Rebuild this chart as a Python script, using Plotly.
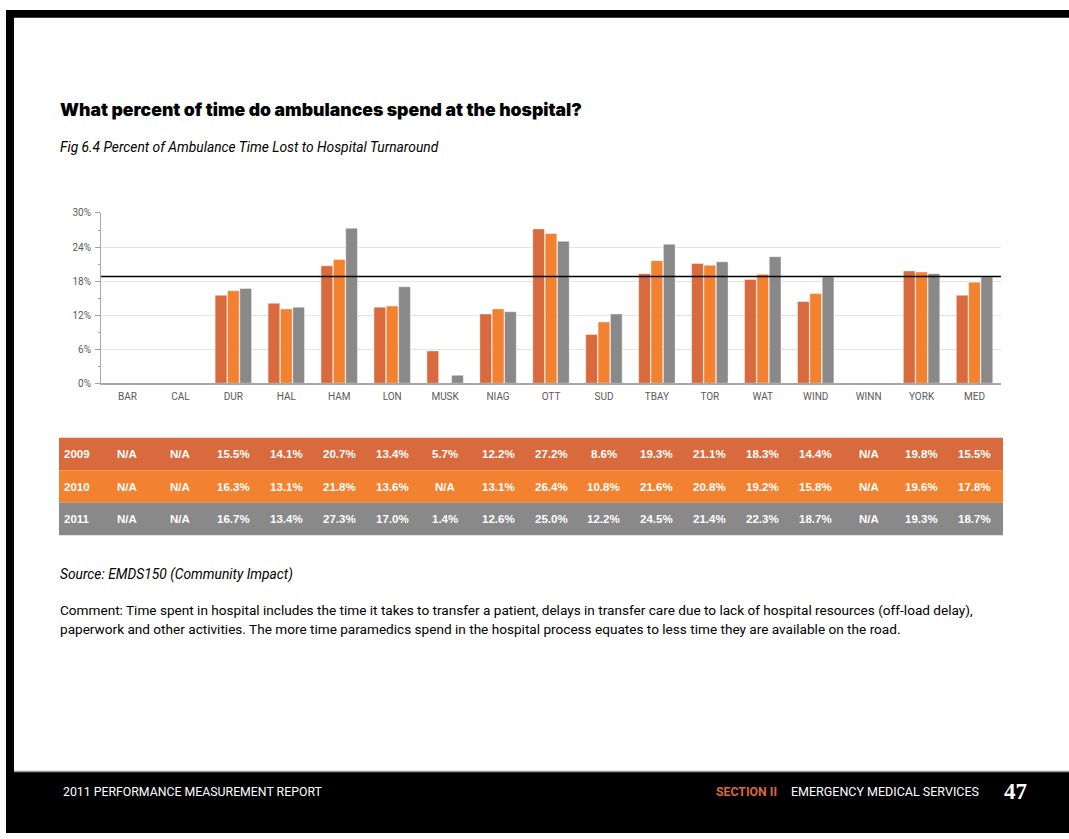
import plotly.graph_objects as go

W, H = 1069, 839

# Service areas and yearly percent of ambulance time lost to hospital turnaround
regions = ["BAR", "CAL", "DUR", "HAL", "HAM", "LON", "MUSK", "NIAG", "OTT",
           "SUD", "TBAY", "TOR", "WAT", "WIND", "WINN", "YORK", "MED"]
years = ["2009", "2010", "2011"]
pct_2009 = [None, None, 15.5, 14.1, 20.7, 13.4, 5.7, 12.2, 27.2, 8.6, 19.3, 21.1, 18.3, 14.4, None, 19.8, 15.5]
pct_2010 = [None, None, 16.3, 13.1, 21.8, 13.6, None, 13.1, 26.4, 10.8, 21.6, 20.8, 19.2, 15.8, None, 19.6, 17.8]
pct_2011 = [None, None, 16.7, 13.4, 27.3, 17.0, 1.4, 12.6, 25.0, 12.2, 24.5, 21.4, 22.3, 18.7, None, 19.3, 18.7]
reference_pct = 18.8
y_ticks = [0, 6, 12, 18, 24, 30]
y_tick_labels = ["0%", "6%", "12%", "18%", "24%", "30%"]

series = [pct_2009, pct_2010, pct_2011]
colors = ["#D96A3D", "#F28130", "#898989"]


def px(x):
    return x / W


def py(y):
    return 1 - y / H


fig = go.Figure()
for name, vals, col in zip(years, series, colors):
    fig.add_trace(go.Bar(
        x=regions, y=vals, name=name, marker_color=col,
        marker_line=dict(color="rgba(255,255,255,0.7)", width=0.6),
        showlegend=False, hoverinfo="x+y+name",
    ))

shapes = []
# page frame: top rule, left rule, footer band
shapes.append(dict(type="rect", xref="paper", yref="paper", x0=px(6), x1=1, y0=py(12), y1=py(4),
                   fillcolor="black", line_width=0, layer="above"))
shapes.append(dict(type="rect", xref="paper", yref="paper", x0=px(6), x1=px(14), y0=py(777), y1=py(4),
                   fillcolor="black", line_width=0, layer="above"))
shapes.append(dict(type="rect", xref="paper", yref="paper", x0=px(6), x1=1, y0=0, y1=py(777),
                   fillcolor="black", line_width=0, layer="above"))
shapes.append(dict(type="line", xref="paper", yref="paper", x0=px(14), x1=1, y0=py(776.5), y1=py(776.5),
                   line=dict(color="#9a9a9a", width=1.5)))
# reference level across the plot
shapes.append(dict(type="line", xref="x domain", yref="y", x0=0, x1=1, y0=reference_pct, y1=reference_pct,
                   line=dict(color="black", width=1.6), layer="above"))

# data table rows under the chart
row_tops = [438, 471, 504]
row_h = 33
for top, col in zip(row_tops, colors):
    shapes.append(dict(type="rect", xref="paper", yref="paper", x0=px(59), x1=px(1003),
                       y0=py(top + row_h), y1=py(top), fillcolor=col, line_width=0, layer="below"))

annotations = []
cell_font = dict(family="Liberation Sans", size=11.5, color="white", weight="bold")
for top, yr, vals in zip(row_tops, years, series):
    yc = py(top + row_h / 2)
    annotations.append(dict(text=yr, xref="paper", yref="paper", x=px(62), y=yc,
                            xanchor="left", yanchor="middle", showarrow=False, font=cell_font))
    for reg, v in zip(regions, vals):
        label = "N/A" if v is None else f"{v:.1f}%"
        annotations.append(dict(text=label, xref="x", yref="paper", x=reg, y=yc,
                                xanchor="center", yanchor="middle", showarrow=False, font=cell_font))

# headings
annotations.append(dict(text="What percent of time do ambulances spend at the hospital?",
                        xref="paper", yref="paper", x=px(58), y=py(105), xanchor="left", yanchor="middle",
                        showarrow=False, font=dict(family="Inter", size=17.6, color="black", weight=900)))
annotations.append(dict(text="Fig 6.4 Percent of Ambulance Time Lost to Hospital Turnaround",
                        xref="paper", yref="paper", x=px(58), y=py(143), xanchor="left", yanchor="middle",
                        showarrow=False, font=dict(family="Roboto", size=13.8, color="black", style="italic")))

# source and comment
body_font = dict(family="Roboto", size=13.6, color="black")
annotations.append(dict(text="Source: EMDS150 (Community Impact)", xref="paper", yref="paper",
                        x=px(58), y=py(577), xanchor="left", yanchor="middle", showarrow=False,
                        font=dict(family="Roboto", size=13.8, color="black", style="italic")))
annotations.append(dict(text="Comment: Time spent in hospital includes the time it takes to transfer a patient, "
                             "delays in transfer care due to lack of hospital resources (off-load delay),",
                        xref="paper", yref="paper", x=px(58), y=py(613), xanchor="left", yanchor="middle",
                        showarrow=False, font=body_font))
annotations.append(dict(text="paperwork and other activities. The more time paramedics spend in the hospital "
                             "process equates to less time they are available on the road.",
                        xref="paper", yref="paper", x=px(58), y=py(632), xanchor="left", yanchor="middle",
                        showarrow=False, font=body_font))

# footer
annotations.append(dict(text="2011 PERFORMANCE MEASUREMENT REPORT", xref="paper", yref="paper",
                        x=px(61), y=py(797), xanchor="left", yanchor="middle", showarrow=False,
                        font=dict(family="Roboto", size=12.3, color="white")))
annotations.append(dict(text="SECTION II", xref="paper", yref="paper",
                        x=px(714), y=py(797), xanchor="left", yanchor="middle", showarrow=False,
                        font=dict(family="Roboto", size=12.3, color="#D9693B", weight="bold")))
annotations.append(dict(text="EMERGENCY MEDICAL SERVICES", xref="paper", yref="paper",
                        x=px(789), y=py(797), xanchor="left", yanchor="middle", showarrow=False,
                        font=dict(family="Roboto", size=12.5, color="white")))
annotations.append(dict(text="47", xref="paper", yref="paper",
                        x=px(1002), y=py(797), xanchor="left", yanchor="middle", showarrow=False,
                        font=dict(family="Liberation Serif", size=23, color="white", weight="bold")))

fig.update_layout(
    width=W, height=H, autosize=False,
    margin=dict(l=0, r=0, t=0, b=0),
    paper_bgcolor="white", plot_bgcolor="white",
    barmode="group", bargap=0.3, bargroupgap=0.05,
    shapes=shapes, annotations=annotations,
    font=dict(family="Roboto"),
    xaxis=dict(
        domain=[101 / W, 1001 / W], categoryorder="array", categoryarray=regions,
        showline=True, linecolor="#a8a8a8", linewidth=2, ticks="",
        tickfont=dict(family="Roboto", size=10, color="#5a5a5a"), ticklabelstandoff=3,
        showgrid=False, fixedrange=True,
    ),
    yaxis=dict(
        domain=[py(382.7), py(210)], range=[0, 30],
        tickvals=y_ticks, ticktext=y_tick_labels,
        showgrid=True, gridcolor="#e4e4e4", gridwidth=1, zeroline=False,
        showline=True, linecolor="#a8a8a8", linewidth=1,
        ticks="outside", ticklen=5, tickcolor="#a0a0a0",
        minor=dict(dtick=3, ticks="outside", ticklen=2, tickcolor="#a0a0a0", showgrid=False),
        tickfont=dict(family="Roboto", size=10, color="#5a5a5a"), ticklabelstandoff=2,
        fixedrange=True,
    ),
)

fig.write_html("out.html")
